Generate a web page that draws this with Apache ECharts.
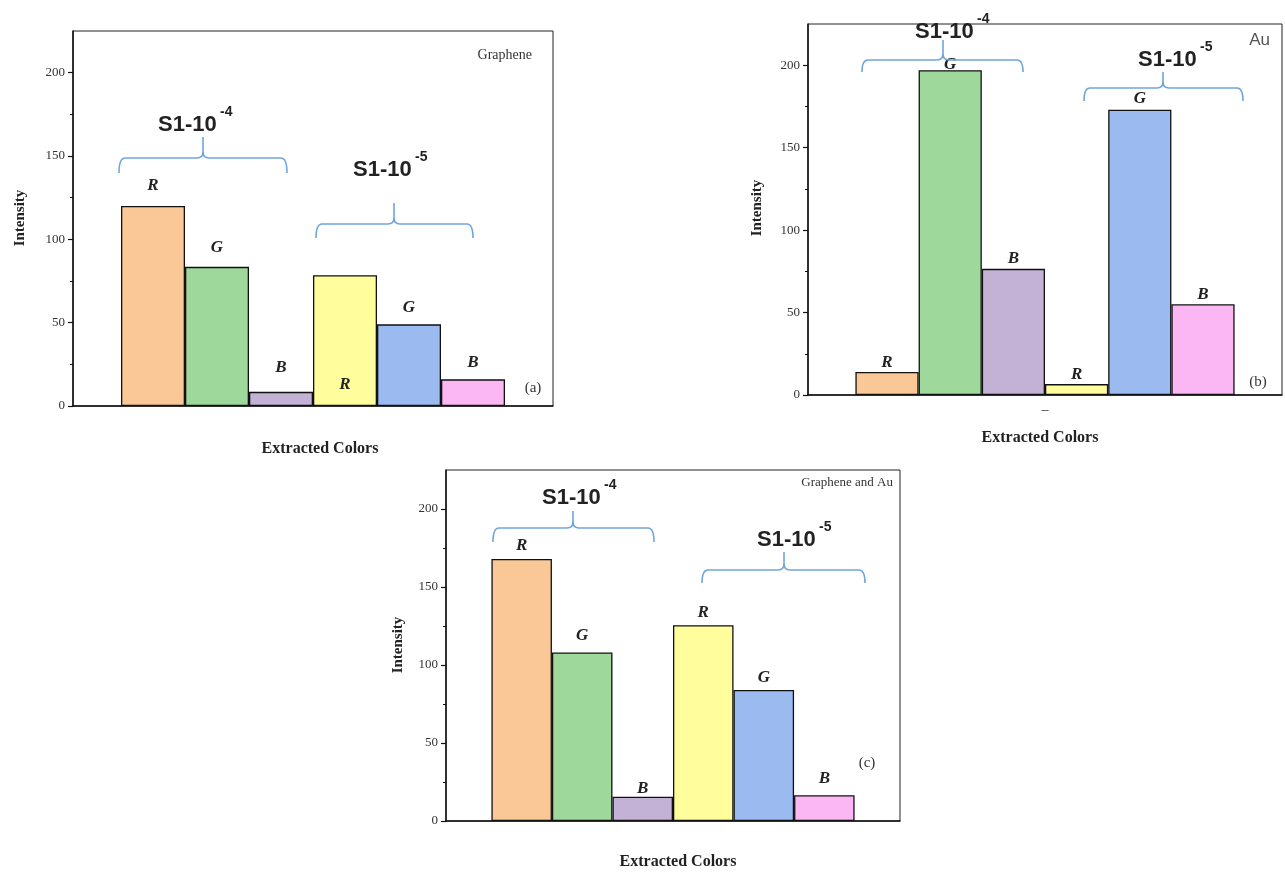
<!DOCTYPE html>
<html>
<head>
<meta charset="utf-8">
<script src="https://cdn.jsdelivr.net/npm/echarts@6/dist/echarts.min.js"></script>
<style>
  html, body { margin: 0; background: #fff; }
  #chart { width: 1285px; height: 873px; }
</style>
</head>
<body>
<div id="chart"></div>
<script>
// data
const colorLetters = ['R', 'G', 'B', 'R', 'G', 'B']
const grapheneValues = [120, 83.5, 8.5, 78.5, 49, 16] // (a)
const auValues = [14, 197, 76.5, 6.6, 173, 55] // (b)
const grapheneAuValues = [168, 108, 15.5, 125.5, 84, 16.5] // (c)
const majorTicks = [0, 50, 100, 150, 200]
const minorTicks = [25, 75, 125, 175]
const categoryLabels = ['', '–', '']
const panelTitles = ['Graphene', 'Au', 'Graphene and Au']
const panelTags = ['(a)', '(b)', '(c)']
const groupName = 'S1-10'
const groupExponents = ['-4', '-5']

const barColors = ['#F9C896', '#9FD89B', '#C3B1D6', '#FFFD9C', '#9BBAF0', '#FBB6F4']
const serif = '"Liberation Serif", "DejaVu Serif", serif'
const sans = '"Liberation Sans", "DejaVu Sans", sans-serif'

// layout of each panel (pixels)
// labelGap: distance of the letter above the bar top; labelInside: letter drawn inside the bar, near its base
const panels = [
  {
    values: grapheneValues,
    grid: { left: 73, top: 31, width: 480, height: 375 },
    labelGap: [12, 11, 16, 13, 8, 8],
    labelInside: [false, false, false, true, false, false],
    title: { x: 532, y: 55, align: 'right', font: '14px ' + serif },
    tag: { x: 533, y: 388 },
    xName: { x: 320, y: 449 },
    yName: { x: 20, y: 218 },
    braces: [
      { x1: 119, x2: 287, line: 158, tip: 173, cx: 203, peak: 137, tx: 158, ty: 125 },
      { x1: 316, x2: 473, line: 224, tip: 238, cx: 394, peak: 203, tx: 353, ty: 170 },
    ],
  },
  {
    values: auValues,
    grid: { left: 808, top: 24, width: 474, height: 371 },
    labelGap: [1, -3, 2, 1, 3, 1],
    labelInside: [false, false, false, false, false, false],
    title: { x: 1270, y: 40, align: 'right', font: '17px ' + sans, color: '#555' },
    tag: { x: 1258, y: 382 },
    xName: { x: 1040, y: 438 },
    yName: { x: 757, y: 208 },
    braces: [
      { x1: 862, x2: 1023, line: 60, tip: 72, cx: 943, peak: 40, tx: 915, ty: 32 },
      { x1: 1084, x2: 1243, line: 88, tip: 101, cx: 1163, peak: 72, tx: 1138, ty: 60 },
    ],
  },
  {
    values: grapheneAuValues,
    grid: { left: 446, top: 470, width: 454, height: 351 },
    labelGap: [5, 8, 0, 4, 4, 8],
    labelInside: [false, false, false, false, false, false],
    title: { x: 893, y: 483, align: 'right', font: '13px ' + serif },
    tag: { x: 867, y: 763 },
    xName: { x: 678, y: 862 },
    yName: { x: 398, y: 645 },
    braces: [
      { x1: 493, x2: 654, line: 528, tip: 542, cx: 573, peak: 511, tx: 542, ty: 498 },
      { x1: 702, x2: 865, line: 570, tip: 583, cx: 784, peak: 552, tx: 757, ty: 540 },
    ],
  },
]

const grids = []
const xAxes = []
const yAxes = []
const series = []
const graphics = []

const braceStyle = { fill: null, stroke: '#6FA5DD', lineWidth: 1.6 }

// curly brace built from straight pieces and quadratic corners
const braceParts = (b) => {
  const r = 6
  const curve = (x1, y1, cpx, cpy, x2, y2) => ({
    type: 'bezierCurve',
    z: 90,
    shape: { x1, y1, x2, y2, cpx1: cpx, cpy1: cpy },
    style: braceStyle,
  })
  const seg = (x1, y1, x2, y2) => ({
    type: 'line',
    z: 90,
    shape: { x1, y1, x2, y2 },
    style: braceStyle,
  })
  return [
    curve(b.x1, b.tip, b.x1, b.line, b.x1 + r, b.line),
    seg(b.x1 + r, b.line, b.cx - r, b.line),
    curve(b.cx - r, b.line, b.cx, b.line, b.cx, b.line - r),
    seg(b.cx, b.line - r, b.cx, b.peak),
    curve(b.cx, b.line - r, b.cx, b.line, b.cx + r, b.line),
    seg(b.cx + r, b.line, b.x2 - r, b.line),
    curve(b.x2 - r, b.line, b.x2, b.line, b.x2, b.tip),
  ]
}

const text = (x, y, str, font, extra = {}) => ({
  type: 'text',
  x,
  y,
  rotation: extra.rotation || 0,
  z: 100,
  style: {
    text: str,
    font,
    fill: extra.color || '#222',
    textAlign: extra.align || 'center',
    textVerticalAlign: 'middle',
  },
})

panels.forEach((p, pi) => {
  grids.push({ ...p.grid, show: true, borderColor: '#222', borderWidth: 1, backgroundColor: 'transparent' })

  xAxes.push({
    type: 'category',
    gridIndex: pi,
    data: [categoryLabels[pi]],
    axisLine: { lineStyle: { color: '#111', width: 1.5 } },
    axisTick: { alignWithLabel: true, length: 6, lineStyle: { color: '#111', width: 1.5 } },
    axisLabel: { fontFamily: serif, fontSize: 14, color: '#333', margin: 8 },
  })

  // main y axis: labels and long ticks
  yAxes.push({
    type: 'value',
    gridIndex: pi,
    min: 0,
    max: 225,
    interval: 50,
    axisLine: { show: true, lineStyle: { color: '#111', width: 1.5 } },
    axisTick: { show: true, length: 5, customValues: majorTicks, lineStyle: { color: '#111', width: 1.2 } },
    axisLabel: { customValues: majorTicks, fontFamily: serif, fontSize: 13, color: '#333', margin: 8 },
    splitLine: { show: false },
  })
  // second y axis only for the short in-between ticks
  yAxes.push({
    type: 'value',
    gridIndex: pi,
    min: 0,
    max: 225,
    position: 'left',
    axisLine: { show: false },
    axisTick: { show: true, length: 3, customValues: minorTicks, lineStyle: { color: '#111', width: 1 } },
    axisLabel: { show: false },
    splitLine: { show: false },
  })

  p.values.forEach((v, i) => {
    const label = {
      show: true,
      position: p.labelInside[i] ? 'insideBottom' : 'top',
      distance: p.labelGap[i],
      formatter: colorLetters[i],
      fontFamily: serif,
      fontStyle: 'italic',
      fontWeight: 'bold',
      fontSize: 17,
      color: '#222',
    }
    series.push({
      type: 'bar',
      xAxisIndex: pi,
      yAxisIndex: pi * 2,
      barGap: '0%',
      barCategoryGap: '20%',
      data: [v],
      itemStyle: { color: barColors[i], borderColor: '#111', borderWidth: 1.3 },
      label,
      silent: true,
    })
  })

  p.braces.forEach((b, bi) => {
    graphics.push(...braceParts(b))
    graphics.push(text(b.tx, b.ty, groupName, 'bold 22px ' + sans, { align: 'left' }))
    graphics.push(text(b.tx + 62, b.ty - 13, groupExponents[bi], 'bold 14px ' + sans, { align: 'left' }))
  })

  graphics.push(text(p.title.x, p.title.y, panelTitles[pi], p.title.font, { align: p.title.align, color: p.title.color || '#333' }))
  graphics.push(text(p.tag.x, p.tag.y, panelTags[pi], '15px ' + serif, { color: '#333' }))
  graphics.push(text(p.xName.x, p.xName.y, 'Extracted Colors', 'bold 16px ' + serif))
  graphics.push(text(p.yName.x, p.yName.y, 'Intensity', 'bold 15px ' + serif, { rotation: Math.PI / 2 }))
})

const chart = echarts.init(document.getElementById('chart'))
chart.setOption({
  animation: false,
  backgroundColor: '#fff',
  grid: grids,
  xAxis: xAxes,
  yAxis: yAxes,
  series,
  graphic: graphics,
})
</script>
</body>
</html>
